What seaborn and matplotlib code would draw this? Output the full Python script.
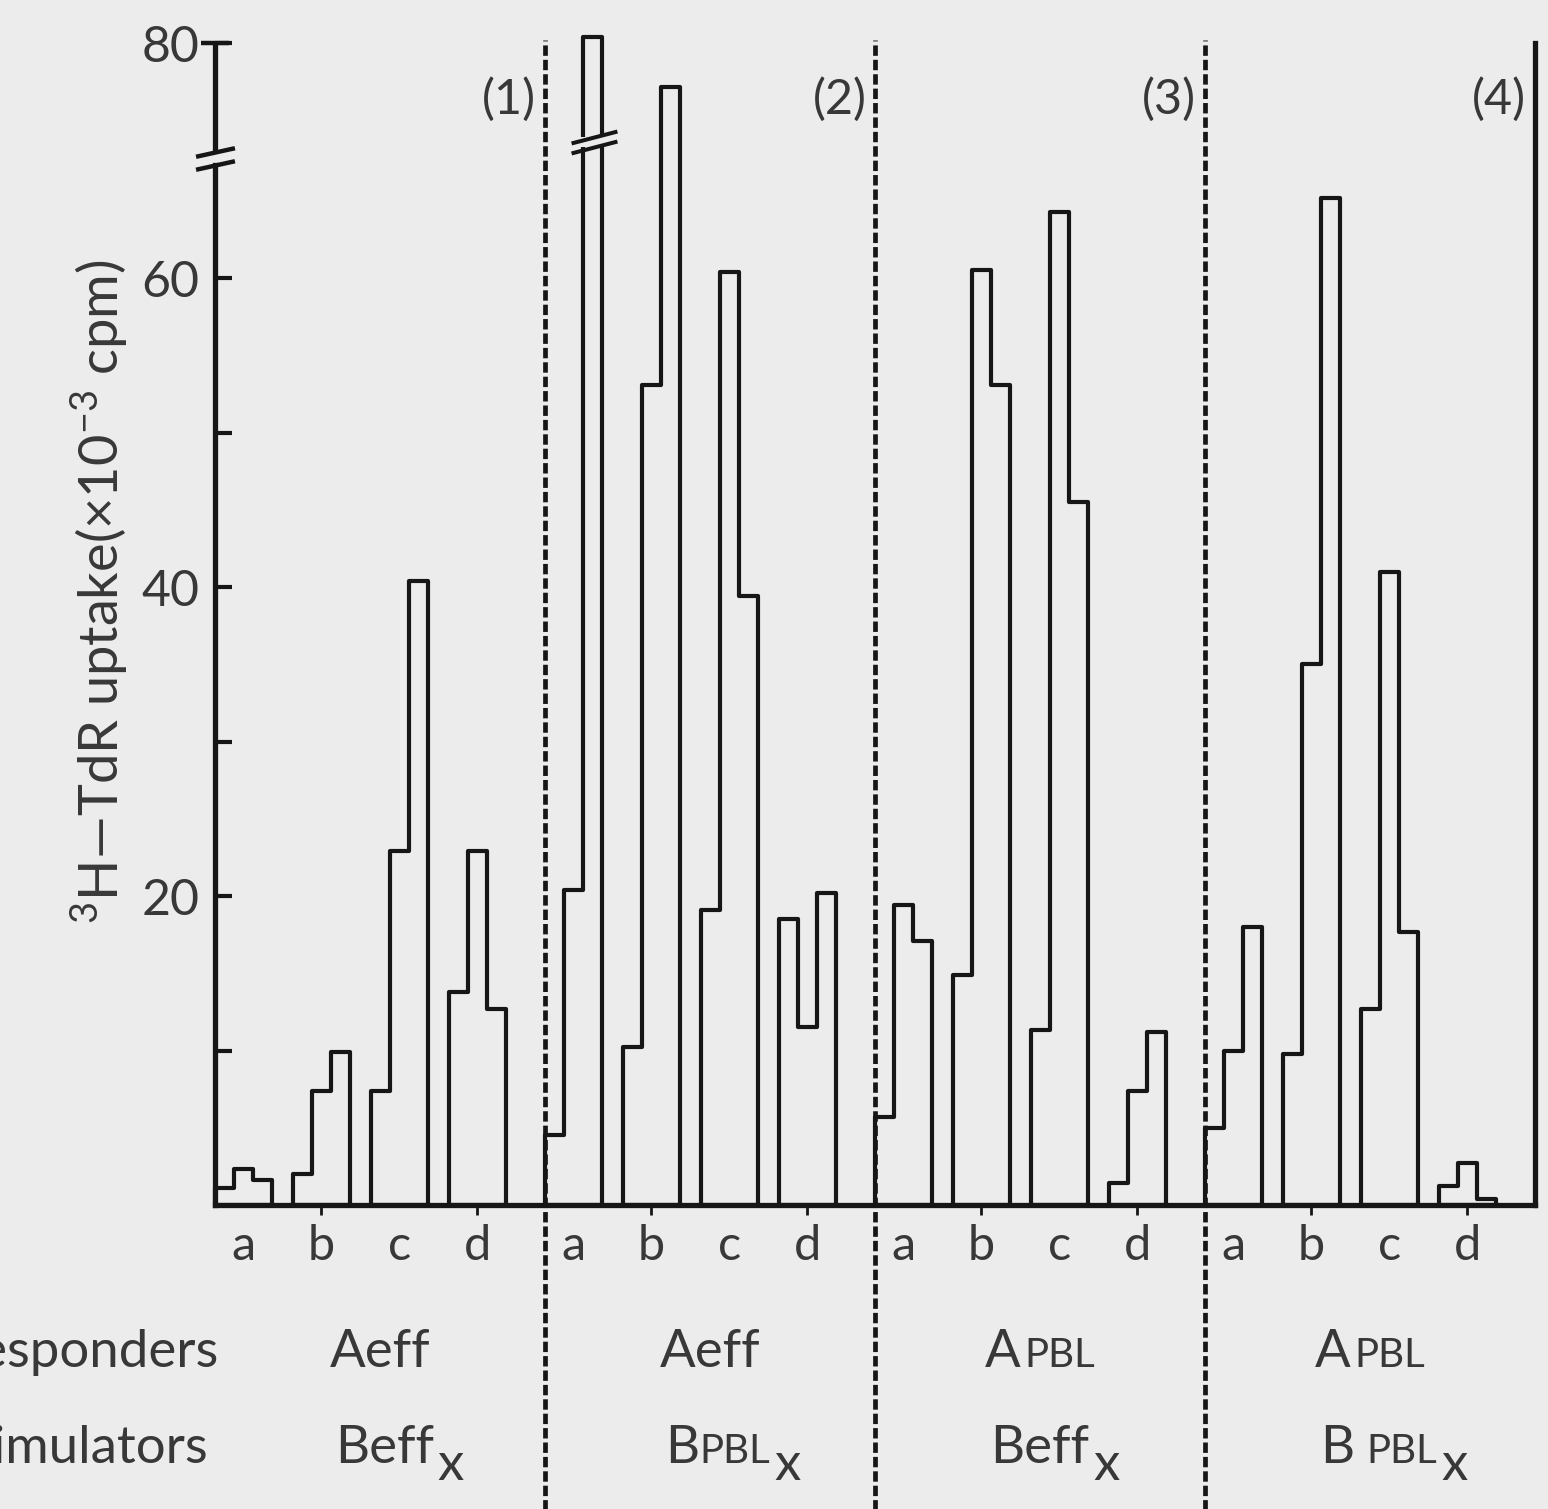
import numpy as np
import pandas as pd
import matplotlib
matplotlib.use("Agg")
import matplotlib.pyplot as plt
import matplotlib.transforms as mtransforms
from matplotlib.ticker import FixedLocator, FixedFormatter, NullFormatter
import seaborn as sns

# ---------------------------------------------------------------- data
panel_tags = ["(1)", "(2)", "(3)", "(4)"]
group_letters = ["a", "b", "c", "d"]
cell_doses = ["1e5", "4e5", "1e6"]          # three responder doses per group

# 3H-TdR uptake (x10^-3 cpm); rows = groups a-d, columns = doses
uptake_panel1 = [[1.1, 2.3, 1.6], [2.0, 7.4, 9.9], [7.4, 22.9, 40.4], [13.8, 22.9, 12.7]]
uptake_panel2 = [[4.5, 20.4, 80.7], [10.2, 53.1, 75.3], [19.1, 60.4, 39.4], [18.5, 11.5, 20.2]]
uptake_panel3 = [[5.7, 19.4, 17.1], [14.9, 60.5, 53.1], [11.3, 64.3, 45.5], [1.4, 7.4, 11.2]]
uptake_panel4 = [[5.0, 10.0, 18.0], [9.8, 35.0, 65.2], [12.7, 41.0, 17.7], [1.2, 2.7, 0.4]]

responders_main = ["Aeff", "Aeff", "A", "A"]
responders_small = ["", "", "PBL", "PBL"]
stimulators_main = ["Beff", "B", "Beff", "B "]
stimulators_small = ["", "PBL", "", "PBL"]
stimulators_sub = ["x", "x", "x", "x"]

y_major = [20, 40, 60, 80]
y_major_labels = ["20", "40", "60", "80"]
y_minor = [10, 30, 50]
axis_break = 68.0          # the scale is compressed above this value
broken_bar = (1, 0, 2)     # panel, group, dose of the off-scale bar

# ---------------------------------------------------------------- style
BG = "#ececec"
LINE = "#161616"
TEXT = "#383838"
W_PX, H_PX = 1548, 1509
DPI = 100

sns.set_style("ticks")
plt.rcParams["font.family"] = ["Lato", "DejaVu Sans"]
plt.rcParams["mathtext.fontset"] = "custom"
plt.rcParams["mathtext.rm"] = "Lato"
plt.rcParams["mathtext.default"] = "regular"
plt.rcParams["axes.unicode_minus"] = True

BAR_W = 1.0
GROUP_PITCH = 4.1
PANEL_W = 17.37
SQUEEZE = 0.6

panels = [uptake_panel1, uptake_panel2, uptake_panel3, uptake_panel4]
rows = []
for p, panel in enumerate(panels):
    for g, vals in enumerate(panel):
        for k, v in enumerate(vals):
            left = p * PANEL_W + g * GROUP_PITCH + k * BAR_W
            rows.append(dict(panel=p, group=g, dose=cell_doses[k],
                             x=left + BAR_W / 2, left=left, uptake=v))
df = pd.DataFrame(rows)


def fwd(v):
    v = np.asarray(v, dtype=float)
    return np.where(v <= axis_break, v, axis_break + (v - axis_break) * SQUEEZE)


def inv(u):
    u = np.asarray(u, dtype=float)
    return np.where(u <= axis_break, u, axis_break + (u - axis_break) / SQUEEZE)


fig = plt.figure(figsize=(W_PX / DPI, H_PX / DPI), dpi=DPI, facecolor=BG)
ax_bottom_px, ax_top_px = 1205, 29.3
ax = fig.add_axes([215 / W_PX, (H_PX - ax_bottom_px) / H_PX,
                   1320 / W_PX, (ax_bottom_px - ax_top_px) / H_PX])
ax.set_facecolor(BG)

# stepped outline per group: three adjacent dose bars
for (p, g), sub in df.groupby(["panel", "group"]):
    left0 = sub["left"].min()
    sns.histplot(data=sub, x="x", weights="uptake", bins=len(sub),
                 binrange=(left0, left0 + len(sub) * BAR_W), element="step",
                 fill=True, color=LINE, facecolor="none", edgecolor=LINE,
                 linewidth=3.0, ax=ax, clip_on=False, zorder=3)

ax.set_yscale("function", functions=(fwd, inv))
x_end = 4 * PANEL_W
ax.set_xlim(0, x_end)
ax.set_ylim(0, 81.5)
ax.set_xlabel("")
ax.set_ylabel("")

# spines
for s in ["left", "bottom", "right"]:
    ax.spines[s].set_linewidth(3.8)
    ax.spines[s].set_color(LINE)
ax.spines["top"].set_visible(False)
ax.spines["right"].set_bounds(0, 80)
ax.spines["left"].set_bounds(0, 67.3)
ax.plot([0, 0], [68.25, 80], color=LINE, lw=3.8, clip_on=False,
        solid_capstyle="butt", zorder=5)
ax.plot([0], [80], marker="_", markersize=20, mew=3.2, color=LINE,
        clip_on=False, zorder=5)

slash = [(-1.0, -0.22), (1.0, 0.22)]
ax.plot([0, 0], [67.3, 68.25], ls="none", marker=slash, markersize=28,
        mew=3.2, mec=LINE, color=LINE, clip_on=False, zorder=6)

# break on the off-scale bar
bp, bg, bk = broken_bar
b_left = bp * PANEL_W + bg * GROUP_PITCH + bk * BAR_W
ax.fill_between([b_left - 0.35, b_left + BAR_W + 0.35], 68.85, 69.85,
                color=BG, lw=0, zorder=4)
slash2 = [(-1.0, -0.26), (1.0, 0.26)]
ax.plot([b_left + BAR_W / 2 + 0.1] * 2, [68.8, 69.9], ls="none", marker=slash2,
        markersize=33, mew=2.9, mec=LINE, color=LINE, clip_on=False, zorder=6)

# y ticks
ax.yaxis.set_major_locator(FixedLocator(y_major))
ax.yaxis.set_major_formatter(FixedFormatter(y_major_labels))
ax.yaxis.set_minor_locator(FixedLocator(y_minor))
ax.yaxis.set_minor_formatter(NullFormatter())
ax.tick_params(axis="y", which="both", direction="in", length=12, width=3.0,
               color=LINE, left=True, right=False)
ax.tick_params(axis="y", which="major", pad=11, labelsize=36, labelcolor=TEXT)

# x ticks: group letters, small marks under b and d
centers = [p * PANEL_W + g * GROUP_PITCH + 1.5 * BAR_W
           for p in range(4) for g in range(4)]
ax.set_xticks(centers)
ax.set_xticklabels(group_letters * 4)
ax.xaxis.remove_overlapping_locs = False
ax.xaxis.set_minor_locator(FixedLocator([c for i, c in enumerate(centers) if i % 2 == 1]))
ax.tick_params(axis="x", which="major", length=0, pad=14, labelsize=35,
               labelcolor=TEXT)
ax.tick_params(axis="x", which="minor", direction="out", length=7, width=2,
               color=LINE)

# dashed panel dividers running down through the label rows
blend = mtransforms.blended_transform_factory(ax.transData, ax.transAxes)
for p in range(1, 4):
    xd = p * PANEL_W
    ax.plot([xd, xd], [-0.27, 0.991], transform=blend, color=LINE, lw=3.4,
            dashes=(2.2, 0.85), clip_on=False, zorder=2)

for p, tag in enumerate(panel_tags):
    ax.text((p + 1) * PANEL_W - 0.45, 0.94, tag, transform=blend, ha="right",
            va="center", fontsize=35, color=TEXT)

# y axis title
fig.text(100 / W_PX, 1 - 592 / H_PX,
         r"$^{3}$H—TdR uptake(×10$^{-3}$ cpm)",
         rotation=90, ha="center", va="center", fontsize=39, color=TEXT)

# row titles (left edge runs off the figure)
fig.text(218 / W_PX, (H_PX - 1367) / H_PX, "Responders", ha="right",
         va="baseline", fontsize=38, color=TEXT)
fig.text(208 / W_PX, (H_PX - 1463) / H_PX, "Stimulators", ha="right",
         va="baseline", fontsize=38, color=TEXT)

# panel cell labels built from a large part, a smaller part and a subscript
renderer = fig.canvas.get_renderer()
ident = mtransforms.IdentityTransform()
BIG, SMALL = 38, 29


def run_width(pieces):
    total = 0.0
    for s, size, dy, gap in pieces:
        if not s:
            continue
        t = fig.text(0, 0, s, fontsize=size, transform=ident)
        total += gap + t.get_window_extent(renderer).width
        t.remove()
    return total


def draw_run(pieces, left_px, base_px):
    x = left_px
    for s, size, dy, gap in pieces:
        if not s:
            continue
        x += gap
        t = fig.text(x, H_PX - base_px + dy, s, fontsize=size, ha="left",
                     va="baseline", transform=ident, color=TEXT)
        x = t.get_window_extent(renderer).x1


to_px = lambda xd: 215 + xd * 1320 / x_end
for p in range(4):
    resp = [(responders_main[p], BIG, 0, 0),
            (responders_small[p], SMALL, 0, 3)]
    stim_main = stimulators_main[p]
    small_gap = 12 if stim_main.endswith(" ") else 1
    stim = [(stim_main.rstrip(), BIG, 0, 0),
            (stimulators_small[p], SMALL, 0, small_gap),
            (stimulators_sub[p], BIG, -17, 4)]
    cx = to_px((p + 0.5) * PANEL_W)
    left = cx - run_width(resp) / 2
    draw_run(resp, left, 1367)
    draw_run(stim, left + 5, 1463)

fig.savefig("out.png", dpi=DPI, facecolor=BG)
